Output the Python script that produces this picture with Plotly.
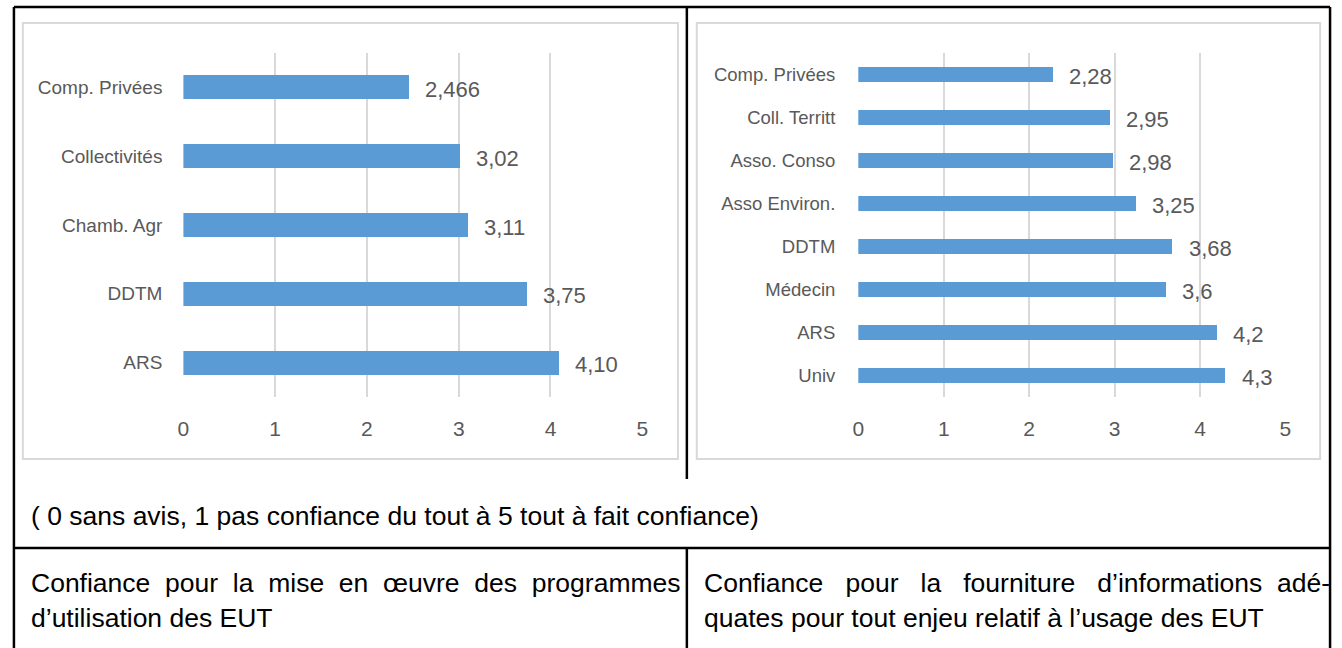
import plotly.graph_objects as go

# ---------------- data ----------------
left_categories = ["Comp. Privées", "Collectivités", "Chamb. Agr", "DDTM", "ARS"]
left_values = [2.466, 3.02, 3.11, 3.75, 4.10]
left_labels = ["2,466", "3,02", "3,11", "3,75", "4,10"]

right_categories = ["Comp. Privées", "Coll. Territt", "Asso. Conso", "Asso Environ.",
                    "DDTM", "Médecin", "ARS", "Univ"]
right_values = [2.28, 2.95, 2.98, 3.25, 3.68, 3.6, 4.2, 4.3]
right_labels = ["2,28", "2,95", "2,98", "3,25", "3,68", "3,6", "4,2", "4,3"]

x_ticks = [0, 1, 2, 3, 4, 5]
x_tick_labels = ["0", "1", "2", "3", "4", "5"]

caption = "( 0 sans avis, 1 pas confiance du tout à 5 tout à fait confiance)"
# justified lines: words and number of spaces between them
left_line1_words = ["Confiance", "pour", "la", "mise", "en", "œuvre", "des", "programmes"]
left_line1_gaps = [2, 2, 2, 2, 2, 2, 2]
left_line2 = "d’utilisation des EUT"
right_line1_words = ["Confiance", "pour", "la", "fourniture", "d’informations", "adé-"]
right_line1_gaps = [3, 3, 3, 3, 2]
right_line2 = "quates pour tout enjeu relatif à l’usage des EUT"


def justify(words, gaps):
    out = words[0]
    for w, g in zip(words[1:], gaps):
        out += "\u00a0" * (g - 1) + " " + w
    return out


# ---------------- layout helpers ----------------
W, H = 1342, 648
def px(x):
    return x / W
def py(y):
    return 1 - y / H

FONT = "Liberation Sans, Arial, sans-serif"
BAR = "#5B9BD5"
GRID = "#D9D9D9"
TXT = "#595959"

fig = go.Figure()
fig.add_trace(go.Bar(x=left_values, y=left_categories, orientation="h",
                     xaxis="x", yaxis="y", marker=dict(color=BAR, line=dict(width=0)),
                     width=0.35, hoverinfo="x+y"))
fig.add_trace(go.Bar(x=right_values, y=right_categories, orientation="h",
                     xaxis="x2", yaxis="y2", marker=dict(color=BAR, line=dict(width=0)),
                     width=0.35, hoverinfo="x+y"))

common_x = dict(range=[0, 5], tickvals=x_ticks, ticktext=x_tick_labels, showgrid=True,
                gridcolor=GRID, gridwidth=1.5, zeroline=False, showline=False, ticks="",
                tickfont=dict(family=FONT, size=21, color=TXT), ticklabelstandoff=17,
                fixedrange=True)
common_y = dict(autorange="reversed", showgrid=False, zeroline=False, showline=False,
                ticks="", fixedrange=True)

fig.update_layout(
    width=W, height=H,
    margin=dict(l=0, r=0, t=0, b=0),
    paper_bgcolor="white", plot_bgcolor="white",
    showlegend=False,
    bargap=0,
    xaxis=dict(domain=[px(179), px(642)], anchor="y", **common_x),
    yaxis=dict(domain=[py(397), py(53)], anchor="x", categoryorder="array",
               categoryarray=left_categories, ticklabelstandoff=20,
               tickfont=dict(family=FONT, size=19, color=TXT), **common_y),
    xaxis2=dict(domain=[px(860), px(1291)], anchor="y2", **common_x),
    yaxis2=dict(domain=[py(397), py(53)], anchor="x2", categoryorder="array",
                categoryarray=right_categories, ticklabelstandoff=22,
                tickfont=dict(family=FONT, size=18.5, color=TXT), **common_y),
)

annotations = []
for v, c, t in zip(left_values, left_categories, left_labels):
    annotations.append(dict(x=v, y=c, xref="x", yref="y", text=t, showarrow=False,
                            xanchor="left", yanchor="middle", xshift=13, yshift=-2,
                            font=dict(family=FONT, size=22, color=TXT)))
for v, c, t in zip(right_values, right_categories, right_labels):
    annotations.append(dict(x=v, y=c, xref="x2", yref="y2", text=t, showarrow=False,
                            xanchor="left", yanchor="middle", xshift=14, yshift=-2,
                            font=dict(family=FONT, size=22, color=TXT)))

body_font = dict(family=FONT, size=26.5, color="black")


def text_ann(x, y, text):
    return dict(x=px(x), y=py(y), xref="paper", yref="paper", text=text, showarrow=False,
                xanchor="left", yanchor="middle", font=body_font)


annotations.append(text_ann(23, 516, caption))
annotations.append(text_ann(23, 583, justify(left_line1_words, left_line1_gaps)))
annotations.append(text_ann(23, 618, left_line2))
annotations.append(text_ann(702, 583, justify(right_line1_words, right_line1_gaps)))
annotations.append(text_ann(702, 618, right_line2))
fig.update_layout(annotations=annotations)

shapes = []
# chart frames
for x0, x1 in [(17, 678), (697, 1326)]:
    shapes.append(dict(type="rect", xref="paper", yref="paper", x0=px(x0), x1=px(x1),
                       y0=py(459), y1=py(23), line=dict(color=GRID, width=2),
                       fillcolor="rgba(0,0,0,0)", layer="below"))
# table borders
black = dict(color="black", width=2.5)
shapes += [
    dict(type="line", xref="paper", yref="paper", x0=px(8), x1=px(1336), y0=py(7), y1=py(7), line=black),
    dict(type="line", xref="paper", yref="paper", x0=px(8), x1=px(8), y0=py(7), y1=py(660), line=black),
    dict(type="line", xref="paper", yref="paper", x0=px(1336), x1=px(1336), y0=py(7), y1=py(660), line=black),
    dict(type="line", xref="paper", yref="paper", x0=px(687), x1=px(687), y0=py(7), y1=py(479), line=black),
    dict(type="line", xref="paper", yref="paper", x0=px(8), x1=px(1336), y0=py(548), y1=py(548), line=black),
    dict(type="line", xref="paper", yref="paper", x0=px(687), x1=px(687), y0=py(548), y1=py(660), line=black),
]
fig.update_layout(shapes=shapes)

fig.write_html(
    "out.html",
    config={"displayModeBar": False},
    post_script="document.body.style.margin='0';document.body.style.overflow='hidden';",
)
